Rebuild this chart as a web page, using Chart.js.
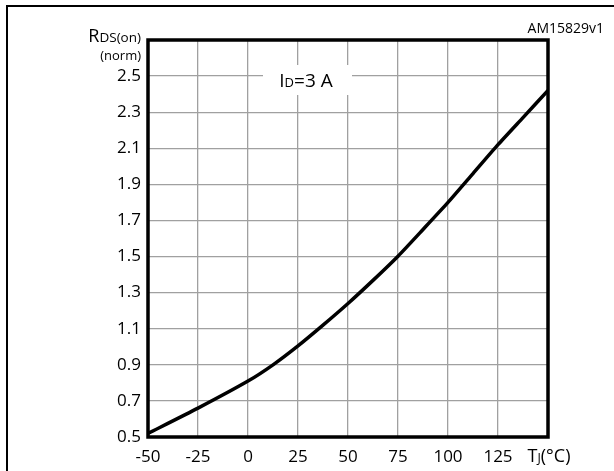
<!DOCTYPE html>
<html><head><meta charset="utf-8">
<script src="https://cdn.jsdelivr.net/npm/chart.js@4"></script>
<style>html,body{margin:0;padding:0;background:#fff}#wrap{width:614px;height:471px;position:relative}</style>
</head><body><div id="wrap"><canvas id="c" width="614" height="471"></canvas></div>
<script>
const tempC = [-50,-25,0,12.5,25,37.5,50,62.5,75,87.5,100,112.5,125,137.5,150];
const rdsNorm = [0.52,0.66,0.81,0.90,1.005,1.12,1.24,1.368,1.502,1.65,1.80,1.96,2.12,2.27,2.42];
const xTicks = [-50,-25,0,25,50,75,100,125,150];
const yTicks = [0.5,0.7,0.9,1.1,1.3,1.5,1.7,1.9,2.1,2.3,2.5,2.7];
const FONT = '"Open Sans", sans-serif';

function drawParts(ctx, parts, x, y, align){
  let w = 0;
  parts.forEach(p=>{ctx.font = p[1]+'px '+FONT; w += ctx.measureText(p[0]).width;});
  let cx = align==='right' ? x - w : (align==='center' ? x - w/2 : x);
  ctx.textAlign='left'; ctx.textBaseline='alphabetic';
  parts.forEach(p=>{ctx.font = p[1]+'px '+FONT; ctx.fillText(p[0], cx, y + (p[2]||0)); cx += ctx.measureText(p[0]).width;});
}

const deco = {
  id:'deco',
  beforeDatasetsDraw(chart){
    const ctx = chart.ctx;
    ctx.save();
    ctx.fillStyle='#fff';
    ctx.fillRect(263, 65, 89, 30);
    ctx.fillStyle='#000';
    drawParts(ctx, [['I',19,0],['D',13,0],['=3 A',19,0]], 306, 87, 'center');
    ctx.restore();
  },
  afterDraw(chart){
    const ctx = chart.ctx, a = chart.chartArea;
    ctx.save();
    ctx.strokeStyle='#000';
    ctx.lineWidth=3.5;
    ctx.strokeRect(a.left, a.top, a.right-a.left, a.bottom-a.top);
    ctx.lineWidth=2;
    ctx.beginPath();
    ctx.moveTo(7, 471); ctx.lineTo(7, 6); ctx.lineTo(614, 6);
    ctx.stroke();
    ctx.fillStyle='#000';
    drawParts(ctx, [['R',18,0],['DS(on)',13.5,0]], 141, 42, 'right');
    drawParts(ctx, [['(norm)',13,0]], 141, 60, 'right');
    const x150 = chart.scales.x.getPixelForValue(150);
    drawParts(ctx, [['T',18,0],['J',12.5,0],['(°C)',18,0]], x150 + 1, 462, 'center');
    ctx.font = '14px '+FONT; ctx.textAlign='right'; ctx.textBaseline='alphabetic';
    ctx.fillText('AM15829v1', 604, 33);
    ctx.restore();
  }
};

new Chart(document.getElementById('c'), {
  type:'line',
  data:{ datasets:[{ data: tempC.map((t,i)=>({x:t, y:rdsNorm[i]})), borderColor:'#000', borderWidth:3.5, pointRadius:0, tension:0.2, fill:false }]},
  options:{
    responsive:false, animation:false, devicePixelRatio:1,
    layout:{ padding:{ top:40, right:66, left:0, bottom:0 } },
    plugins:{ legend:{display:false}, tooltip:{enabled:false} },
    scales:{
      x:{ type:'linear', min:-50, max:150,
        afterBuildTicks(s){ s.ticks = xTicks.map(v=>({value:v})); },
        afterFit(s){ s.height = 34; },
        grid:{ color:'#a0a0a0', lineWidth:1.3, drawTicks:false },
        border:{ display:false },
        ticks:{ padding:10, color:'#000', font:{family:FONT, size:17}, maxRotation:0, autoSkip:false,
          callback:(v)=> v===150 ? '' : String(v) } },
      y:{ type:'linear', min:0.5, max:2.7,
        afterBuildTicks(s){ s.ticks = yTicks.map(v=>({value:v})); },
        afterFit(s){ s.width = 148; },
        grid:{ color:'#a0a0a0', lineWidth:1.3, drawTicks:false },
        border:{ display:false },
        ticks:{ padding:7, color:'#000', font:{family:FONT, size:17}, autoSkip:false,
          callback:(v)=> Math.abs(v-2.7)<1e-6 ? '' : v.toFixed(1) } }
    }
  },
  plugins:[deco]
});
</script></body></html>
